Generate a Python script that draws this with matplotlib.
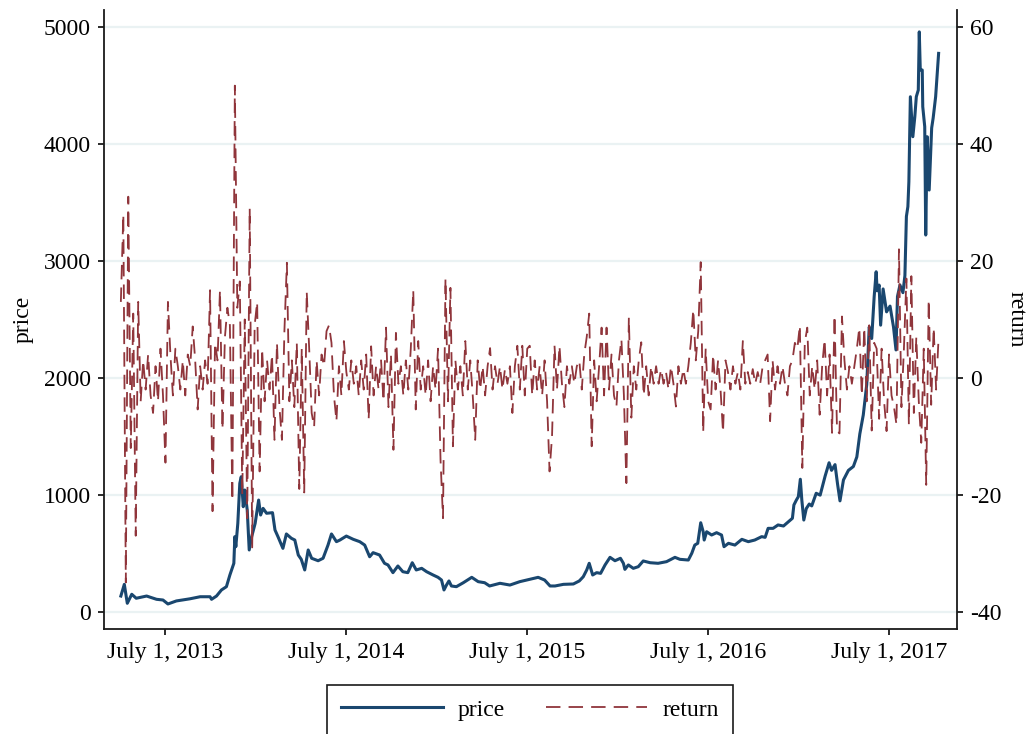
import matplotlib
matplotlib.use("Agg")
import matplotlib.pyplot as plt
import pandas as pd

plt.rcParams['font.family'] = ['Liberation Serif', 'DejaVu Serif']

# ---------------- data ----------------
price_dates = [
    "2013-04-03", "2013-04-10", "2013-04-16", "2013-04-25", "2013-05-04", "2013-05-25",
    "2013-06-14", "2013-06-27", "2013-07-07", "2013-07-24", "2013-08-20", "2013-09-10",
    "2013-09-30", "2013-10-03", "2013-10-13", "2013-10-23", "2013-11-02", "2013-11-09",
    "2013-11-17", "2013-11-19", "2013-11-21", "2013-11-25", "2013-11-29", "2013-12-02",
    "2013-12-06", "2013-12-09", "2013-12-14", "2013-12-18", "2013-12-23", "2013-12-30",
    "2014-01-06", "2014-01-10", "2014-01-15", "2014-01-22", "2014-02-03", "2014-02-08",
    "2014-02-14", "2014-02-24", "2014-03-03", "2014-03-13", "2014-03-20", "2014-03-27",
    "2014-04-02", "2014-04-09", "2014-04-16", "2014-04-23", "2014-05-06", "2014-05-16",
    "2014-05-26", "2014-06-02", "2014-06-12", "2014-06-19", "2014-07-02", "2014-07-16",
    "2014-07-29", "2014-08-08", "2014-08-18", "2014-08-25", "2014-09-07", "2014-09-17",
    "2014-09-24", "2014-10-04", "2014-10-14", "2014-10-24", "2014-11-03", "2014-11-12",
    "2014-11-20", "2014-12-01", "2014-12-11", "2014-12-24", "2015-01-03", "2015-01-10",
    "2015-01-15", "2015-01-20", "2015-01-25", "2015-01-30", "2015-02-09", "2015-02-23",
    "2015-03-12", "2015-03-25", "2015-04-07", "2015-04-17", "2015-05-08", "2015-05-28",
    "2015-06-17", "2015-07-07", "2015-07-24", "2015-08-06", "2015-08-17", "2015-08-27",
    "2015-09-13", "2015-10-03", "2015-10-15", "2015-10-23", "2015-10-30", "2015-11-04",
    "2015-11-11", "2015-11-19", "2015-11-27", "2015-12-06", "2015-12-16", "2015-12-26",
    "2016-01-06", "2016-01-12", "2016-01-15", "2016-01-22", "2016-02-01", "2016-02-11",
    "2016-02-21", "2016-03-06", "2016-03-22", "2016-04-08", "2016-04-25", "2016-05-05",
    "2016-05-22", "2016-05-29", "2016-06-04", "2016-06-10", "2016-06-16", "2016-06-21",
    "2016-06-23", "2016-06-28", "2016-07-08", "2016-07-18", "2016-07-28", "2016-08-02",
    "2016-08-11", "2016-08-24", "2016-09-07", "2016-09-20", "2016-10-03", "2016-10-17",
    "2016-10-24", "2016-10-30", "2016-11-09", "2016-11-19", "2016-11-30", "2016-12-10",
    "2016-12-18", "2016-12-21", "2016-12-26", "2016-12-30", "2017-01-03", "2017-01-06",
    "2017-01-10", "2017-01-15", "2017-01-21", "2017-01-26", "2017-02-04", "2017-02-12",
    "2017-02-22", "2017-03-02", "2017-03-07", "2017-03-14", "2017-03-19", "2017-03-24",
    "2017-03-31", "2017-04-10", "2017-04-20", "2017-04-27", "2017-05-03", "2017-05-10",
    "2017-05-17", "2017-05-22", "2017-05-27", "2017-06-01", "2017-06-05", "2017-06-07",
    "2017-06-11", "2017-06-14", "2017-06-19", "2017-06-26", "2017-07-03", "2017-07-10",
    "2017-07-15", "2017-07-18", "2017-07-23", "2017-07-29", "2017-08-02", "2017-08-05",
    "2017-08-08", "2017-08-10", "2017-08-13", "2017-08-18", "2017-08-22", "2017-08-25",
    "2017-08-29", "2017-08-31", "2017-09-02", "2017-09-06", "2017-09-07", "2017-09-11",
    "2017-09-13", "2017-09-16", "2017-09-20", "2017-09-25", "2017-09-28", "2017-10-03",
    "2017-10-09",
]
price_values = [
    134, 234, 72, 149, 115, 134,
    106, 100, 66, 92, 110, 128,
    128, 106, 134, 186, 214, 314,
    414, 642, 556, 756, 1098, 1155,
    898, 1041, 870, 528, 642, 756,
    955, 827, 884, 842, 847, 699,
    642, 542, 665, 628, 613, 485,
    448, 357, 528, 457, 436, 457,
    570, 665, 599, 613, 647, 619,
    599, 570, 470, 505, 485, 414,
    400, 334, 391, 342, 334, 419,
    357, 371, 342, 314, 294, 271,
    186, 228, 263, 220, 214, 248,
    294, 257, 248, 220, 243, 228,
    257, 277, 294, 271, 220, 220,
    234, 237, 263, 299, 357, 414,
    314, 334, 328, 400, 465, 436,
    457, 414, 362, 400, 371, 385,
    434, 419, 414, 428, 465, 448,
    442, 500, 570, 585, 761, 684,
    613, 684, 656, 676, 656, 556,
    585, 570, 619, 599, 613, 642,
    636, 713, 713, 742, 733, 770,
    799, 913, 955, 984, 1133, 955,
    784, 882, 921, 905, 1013, 997,
    1160, 1274, 1209, 1258, 1095, 948,
    1127, 1209, 1242, 1324, 1520, 1683,
    1944, 2435, 2337, 2696, 2908, 2745,
    2794, 2451, 2761, 2565, 2614, 2435,
    2239, 2696, 2794, 2729, 2875, 3381,
    3465, 3678, 4405, 4063, 4234, 4405,
    4462, 4960, 4634, 4634, 4320, 4149,
    3222, 4063, 3607, 4138, 4223, 4405,
    4776,
]

# daily return (%) sampled every 5 days starting 2013-04-03
return_start = "2013-04-03"
return_freq = "5D"
return_values = [
    13, 28, -35, 31, -12, 11, -27, 13, -4, 3,
    -2, 4, -3, -6, 2, -4, 5, -3, -14.5, 13,
    4, -3, 5, 2, -2, 3, -3, 4, 2, 8.8,
    3, -5.4, 2, -2, 3, -1, 15, -22.8, 6, 3,
    15, -8.8, 7, 12, 9, -21, 50, 12, 16.5, -20,
    10, -24, 29, -29, 9, 13, -16, 5, -4, 3,
    -2, 4, -10.6, 6, -5, -10.6, 8, 19.7, -4, 3,
    -5, 6, -19, 5, -19.6, 14.8, 5, -6, -8.4, 3,
    -3, 4, 2, 8, 9, 6, -3, -7.4, 2, -3,
    6.3, 1, -2, 3, -1, 2, -3, 3, -2, 4,
    -7.1, 5.4, -3, 2, -2, 3, -4, 8.6, -5, 4,
    -12.3, 7.7, -1, 2, -3, 3, -2, 5, 15, -5.4,
    6.3, -2, 2, -3, 3, -4, 2, -2, 5, -14,
    -24, 17, -4, 15.4, -11.7, 3, -2, 2, -3, 6.3,
    -2, 3, -3, -10.6, 3, -2, 2, -3, 2, 5.1,
    -2, 2, -1, 2, -2, 1.5, -1, 2, -6, 2,
    5.5, -2, 5.5, -3, 5, 5.5, -3, 3, -2, 2,
    -3, 3, -4, -16, -10, 5.5, -2, 5.5, -1, -5,
    2, -1, 2, -1, 2, 3, -2, 4, 7, 11,
    -11.7, 3, -4, 2, 8.6, -3, 8.6, -2, 4, -3,
    -4.9, 3, 6.6, -3, -18, 10.3, -6.8, 2, -2, 3,
    6.1, -3, 2, -3, 2, -1, 2, -1, 1.5, -1,
    1, -2, 2, -1, -4.9, 2, -1, 1.5, -1, 2,
    6, 11.7, 3, 8, 19.8, -9.3, 5, -4, -5.4, 4,
    -2, 3, -2, -9.3, 3, 1, -2, 2, -1, 1,
    -2, 6.3, -1, 1, -1, 1.5, -1, 1, -1, 2,
    3, 4, -7.4, 3, -2, 2, -1, 2, -1, -3,
    2, 3, 6, 5, 9, -15.4, 6, 8.6, -3, 2,
    -2, 3, -6.3, 2, 6.6, -3, 4, -9.4, 10.7, -9,
    -9.5, 10.5, 3, -2, 2, -1, 2, 5, 8.6, -3,
    8.6, -4, 9, -9, 6, 5, -7, 5, -4, -9.1,
    4, -3, -5, -8, 22, -5, 5, 17, -8, 17.4,
    -6, 7, -4, -11.1, 5, -18.3, 13.4, -4.6, 8.6, -2,
    7,
]

xtick_dates = ["2013-07-01", "2014-07-01", "2015-07-01", "2016-07-01", "2017-07-01"]
xtick_labels = ["July 1, 2013", "July 1, 2014", "July 1, 2015", "July 1, 2016", "July 1, 2017"]
price_ticks = [0, 1000, 2000, 3000, 4000, 5000]
return_ticks = [-40, -20, 0, 20, 40, 60]

# ---------------- plot ----------------
W, H = 1033, 734
fig = plt.figure(figsize=(W / 100, H / 100), dpi=100)
fig.patch.set_facecolor("white")
ax = fig.add_axes([104 / W, 1 - 629 / H, (956.7 - 104) / W, (629 - 10) / H])
ax2 = ax.twinx()

navy = "#1a476f"
maroon = "#90353b"
axcol = "#1a1a1a"
fs = 17

l1, = ax.plot(pd.to_datetime(price_dates), price_values, color=navy, lw=2.2,
              solid_joinstyle="round", zorder=2)
ret_dates = pd.date_range(return_start, periods=len(return_values), freq=return_freq)
l2, = ax2.plot(ret_dates, return_values, color=maroon, lw=1.3, dashes=(8, 4.5))

p_lo, p_hi = -148, 5147
ax.set_ylim(p_lo, p_hi)
ax2.set_ylim((p_lo - 2000) / 50, (p_hi - 2000) / 50)
ax.set_xlim(pd.Timestamp("2013-02-28"), pd.Timestamp("2017-11-14 12:00"))

ax.set_yticks(price_ticks)
ax.set_yticklabels([str(t) for t in price_ticks])
ax2.set_yticks(return_ticks)
ax2.set_yticklabels([str(t) for t in return_ticks])
ax.set_xticks(pd.to_datetime(xtick_dates))
ax.set_xticklabels(xtick_labels)

ax.yaxis.grid(True, color="#eaf2f3", lw=1.6)
ax.xaxis.grid(False)
ax.set_axisbelow(True)

for a in (ax, ax2):
    a.spines["top"].set_visible(False)
    for s in a.spines.values():
        s.set_linewidth(1.3)
        s.set_color(axcol)
    a.tick_params(axis="both", length=4.5, width=1.3, color=axcol,
                  labelsize=fs, pad=5, labelcolor="black")
ax.spines["right"].set_visible(False)
ax2.spines["left"].set_visible(False)
ax2.spines["bottom"].set_visible(False)

ax.set_ylabel("price", fontsize=fs, labelpad=7)
ax2.set_ylabel("return", fontsize=fs, rotation=270, labelpad=18)

leg = fig.legend([l1, l2], ["price", "return"], loc="upper center",
                 bbox_to_anchor=(530 / W, 1 - 685 / H), ncol=2, frameon=True,
                 fancybox=False, edgecolor=axcol, framealpha=1, fontsize=fs,
                 handlelength=4.3, handletextpad=0.65, columnspacing=1.7,
                 borderpad=0.6, borderaxespad=0)
leg.get_frame().set_linewidth(1.2)

fig.savefig("out.png", dpi=100, facecolor="white")
